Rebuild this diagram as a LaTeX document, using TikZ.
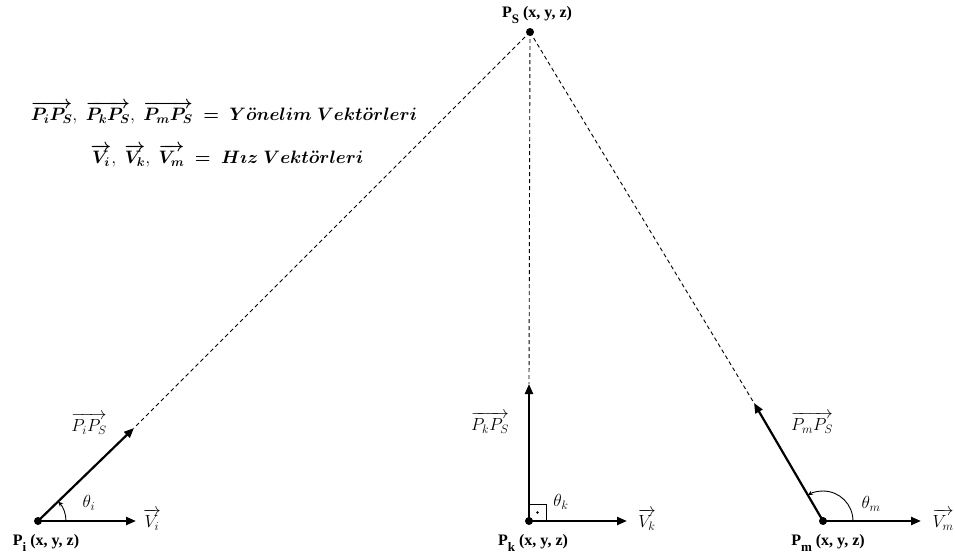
\RequirePackage{fix-cm}
\documentclass[tikz,border=0pt]{standalone}
\usepackage{amsmath}
\usepackage{fontspec}
\newfontfamily\tnr{Liberation Serif}
\usetikzlibrary{arrows.meta}
\newcommand{\ptlabel}[1]{{\tnr\bfseries\fontsize{16}{18}\selectfont P\raisebox{-0.7ex}{\fontsize{13}{15}\selectfont #1} (x, y, z)}}
\newcommand{\legA}{\mbox{$\boldsymbol{\overrightarrow{P_iP_S}},\ \boldsymbol{\overrightarrow{P_kP_S}},\ \boldsymbol{\overrightarrow{P_mP_S}}\ \boldsymbol{=}\ \boldsymbol{Y\ddot{o}nelim}\ \boldsymbol{Vekt\ddot{o}rleri}$}}
\newcommand{\legB}{\mbox{$\boldsymbol{\overrightarrow{V_i}},\ \boldsymbol{\overrightarrow{V_k}},\ \boldsymbol{\overrightarrow{V_m}}\ \boldsymbol{=}\ \boldsymbol{H\imath z}\ \boldsymbol{Vekt\ddot{o}rleri}$}}
\begin{document}
\begin{tikzpicture}[x=1pt,y=-1pt,
  dot/.style={circle,fill=black,inner sep=0pt,minimum size=8pt},
  vec/.style={line width=2.2pt,-{Triangle[length=10pt,width=8pt]}},
  guide/.style={line width=0.9pt,dash pattern=on 4pt off 3pt},
  anglearc/.style={line width=0.9pt,-{Stealth[length=5pt,width=4.5pt]}},
  mathlab/.style={font=\fontsize{17.5}{20}\selectfont,inner sep=0pt},
  leglab/.style={font=\fontsize{18}{21}\selectfont,inner sep=0pt},
  ptlab/.style={inner sep=0pt}]
\useasboundingbox (0,0) rectangle (955,558);
% points
\node[dot] (Ps) at (530,32) {};
\node[dot] (Pi) at (38,521) {};
\node[dot] (Pk) at (529,521) {};
\node[dot] (Pm) at (823,521) {};
\coordinate (Ai) at (134,428);
\coordinate (Ak) at (529,384);
\coordinate (Am) at (754,403);
\coordinate (Vi) at (136,521);
\coordinate (Vk) at (627,521);
\coordinate (Vm) at (921,521);
% dashed guides
\draw[guide] (Ps.center) -- (Ai);
\draw[guide] (Ps.center) -- (Ak);
\draw[guide] (Ps.center) -- (Am);
% vectors
\draw[vec] (Pi.center) -- (Ai);
\draw[vec] (Pi.center) -- (Vi);
\draw[vec] (Pk.center) -- (Ak);
\draw[vec] (Pk.center) -- (Vk);
\draw[vec] (Pm.center) -- (Am);
\draw[vec] (Pm.center) -- (Vm);
% angles
\draw[anglearc] (66,521) arc[start angle=0,end angle=-44,radius=28];
\draw[anglearc] (853,521) arc[start angle=0,end angle=-120.3,radius=30];
\draw[line width=0.9pt] (Pk.center) rectangle (546,504);
\fill (537.5,512.5) circle (1.3);
% labels
\node[ptlab] (lPs) at (537,15) {\ptlabel{S}};
\node[ptlab] (lPi) at (46,543) {\ptlabel{i}};
\node[ptlab] (lPk) at (533,543) {\ptlabel{k}};
\node[ptlab] (lPm) at (828,543) {\ptlabel{m}};
\node[mathlab] (lAi) at (89,424) {$\overrightarrow{P_iP_S}$};
\node[mathlab] (lAk) at (490,423) {$\overrightarrow{P_kP_S}$};
\node[mathlab] (lAm) at (812,423) {$\overrightarrow{P_mP_S}$};
\node[mathlab] (lVi) at (152,520) {$\overrightarrow{V_i}$};
\node[mathlab] (lVk) at (647,520) {$\overrightarrow{V_k}$};
\node[mathlab] (lVm) at (943,520) {$\overrightarrow{V_m}$};
\node[mathlab] (ti) at (89,503) {$\theta_i$};
\node[mathlab] (tk) at (561,502) {$\theta_k$};
\node[mathlab] (tm) at (871,504) {$\theta_m$};
% legend
\node[leglab] (leg1) at (224,113) {\legA};
\node[leglab] (leg2) at (227,156) {\legB};
\end{tikzpicture}
\end{document}
